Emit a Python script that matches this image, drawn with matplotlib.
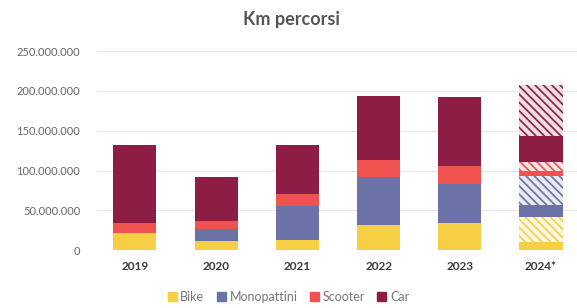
import matplotlib.pyplot as plt
import numpy as np
from matplotlib.ticker import FuncFormatter
from matplotlib.patches import Patch
from matplotlib.colors import to_rgb

years = ['2019', '2020', '2021', '2022', '2023', '2024*']

# km in millions, actual values
bike = [22, 12, 13, 31, 34, 10]
monopattini = [0, 15, 42, 61, 49, 15]
scooter = [12, 9, 15, 21, 23, 6]
car = [98, 56, 62, 81, 86, 32]

# 2024 projection (hatched part)
bike_proj = [0, 0, 0, 0, 0, 32]
monopattini_proj = [0, 0, 0, 0, 0, 36]
scooter_proj = [0, 0, 0, 0, 0, 12]
car_proj = [0, 0, 0, 0, 0, 64]

colors = {'Bike': '#F7CF45', 'Monopattini': '#6A72A6',
          'Scooter': '#F0524F', 'Car': '#8C1E45'}

plt.rcParams['font.family'] = ['Lato', 'DejaVu Sans']
plt.rcParams['hatch.linewidth'] = 1.2


def tint(c, amount=0.15):
    r, g, b = to_rgb(c)
    return (1 - amount + amount * r, 1 - amount + amount * g, 1 - amount + amount * b)


fig = plt.figure(figsize=(5.77, 3.08), dpi=100)
ax = fig.add_axes([0.168, 0.188, 0.832, 0.646])

x = np.arange(len(years))
width = 0.53
bottom = np.zeros(len(years))
series = [('Bike', bike, bike_proj),
          ('Monopattini', monopattini, monopattini_proj),
          ('Scooter', scooter, scooter_proj),
          ('Car', car, car_proj)]
for name, actual, proj in series:
    actual = np.array(actual) * 1e6
    proj = np.array(proj) * 1e6
    ax.bar(x, actual, width, bottom=bottom, color=colors[name], zorder=2)
    bottom += actual
    ax.bar(x, proj, width, bottom=bottom, facecolor=tint(colors[name]),
           edgecolor=colors[name], hatch='\\\\\\\\', linewidth=0, zorder=2)
    bottom += proj

ax.set_ylim(0, 250e6)
ax.set_xlim(-0.468, 5.443)
ax.set_yticks(np.arange(0, 250e6 + 1, 50e6))
ax.yaxis.set_major_formatter(
    FuncFormatter(lambda v, p: f"{int(v):,}".replace(",", ".")))
ax.set_xticks(x)
ax.set_xticklabels(years, fontweight='bold', color='#3a3a3a', fontsize=8.5)
ax.tick_params(axis='y', labelsize=8, labelcolor='#666666', length=0, pad=12)
ax.tick_params(axis='x', length=0, pad=8)
ax.grid(axis='y', color='#e6e6e6', linewidth=0.8, zorder=0)
for s in ax.spines.values():
    s.set_visible(False)

fig.suptitle('Km percorsi', x=0.505, y=0.965, fontsize=13,
             fontweight='bold', color='#555555')

handles = [Patch(color=colors[n]) for n in colors]
fig.legend(handles, list(colors.keys()), loc='center',
           bbox_to_anchor=(0.5, 0.035), ncol=4, frameon=False,
           fontsize=9, handlelength=0.7, handleheight=0.7,
           handletextpad=0.3, columnspacing=1.0, labelcolor='#777777')

fig.savefig('out.png', dpi=100)
